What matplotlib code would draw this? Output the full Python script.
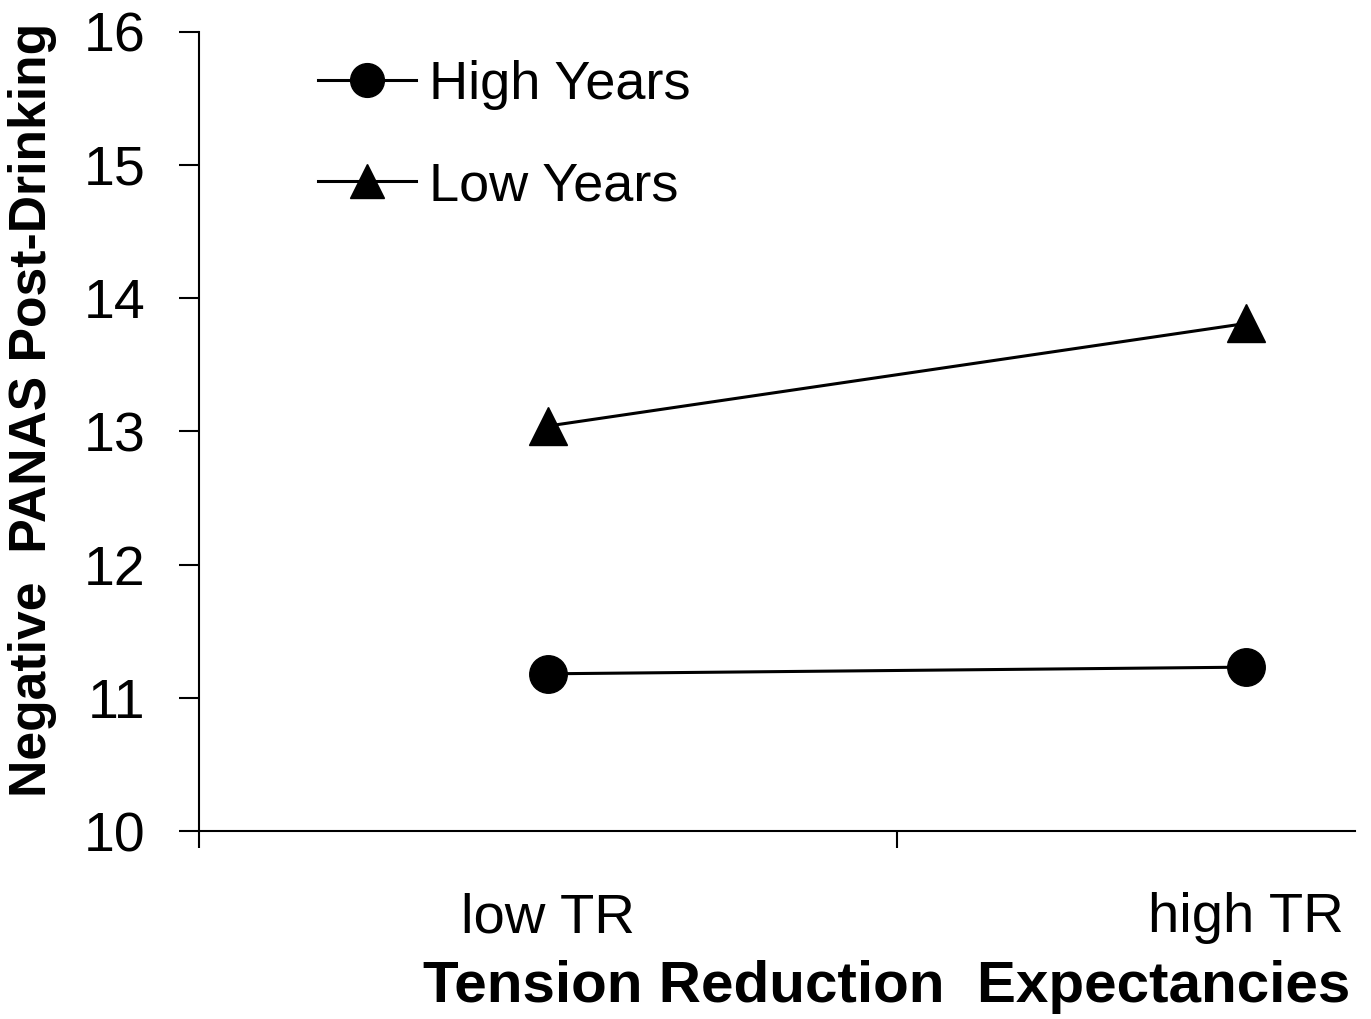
import matplotlib
matplotlib.use("Agg")
import matplotlib.pyplot as plt

# ---------------------------------------------------
# data
# ---------------------------------------------------
categories = ["low TR", "high TR"]
high_years = [11.18, 11.23]
low_years = [13.04, 13.81]
y_ticks = [10, 11, 12, 13, 14, 15, 16]

plt.rcParams["font.family"] = ["Liberation Sans", "DejaVu Sans"]

fig = plt.figure(figsize=(13.71, 10.19), dpi=100)
W, H = 1371, 1019
ax = fig.add_axes([199 / W, 1 - 831 / H, (1355 - 199) / W, (831 - 31.7) / H])

x = list(range(len(categories)))
ax.plot(x, high_years, color="black", lw=2.2, marker="o", ms=27, label="High Years")
ax.plot(x, low_years, color="black", lw=2.2, marker="^", ms=27, label="Low Years")

ax.set_ylim(10, 16)
ax.set_yticks(y_ticks)
ax.set_xlim(-0.5, -0.5 + (1355 - 199) / 698)

# category boundaries as major ticks, labels on minor ticks at the centres
ax.set_xticks([-0.5, 0.5])
ax.set_xticklabels([])
ax.set_xticks(x, minor=True)
ax.set_xticklabels(categories, minor=True, fontsize=40.5)

ax.tick_params(axis="y", direction="out", length=14.4, width=1.5, labelsize=40, pad=24)
ax.tick_params(axis="x", which="major", direction="out", length=12.2, width=1.5)
ax.tick_params(axis="x", which="minor", length=0, pad=44)

for side in ["top", "right"]:
    ax.spines[side].set_visible(False)
for side in ["left", "bottom"]:
    ax.spines[side].set_linewidth(1.5)

fig.text(33 / W, 1 - 410 / H, "Negative  PANAS Post-Drinking", rotation=90,
         ha="center", va="center", fontsize=37.2, fontweight="bold")
fig.text(887 / W, 1 - 987 / H, "Tension Reduction  Expectancies",
         ha="center", va="center", fontsize=42, fontweight="bold")

fig.legend(loc="upper left", bbox_to_anchor=(318 / W, 1 - 60 / H),
           bbox_transform=fig.transFigure, frameon=False, fontsize=39,
           handlelength=1.8, handletextpad=0.25, labelspacing=0.95,
           borderpad=0, borderaxespad=0, markerscale=0.9)

fig.savefig("out.png", dpi=100)
